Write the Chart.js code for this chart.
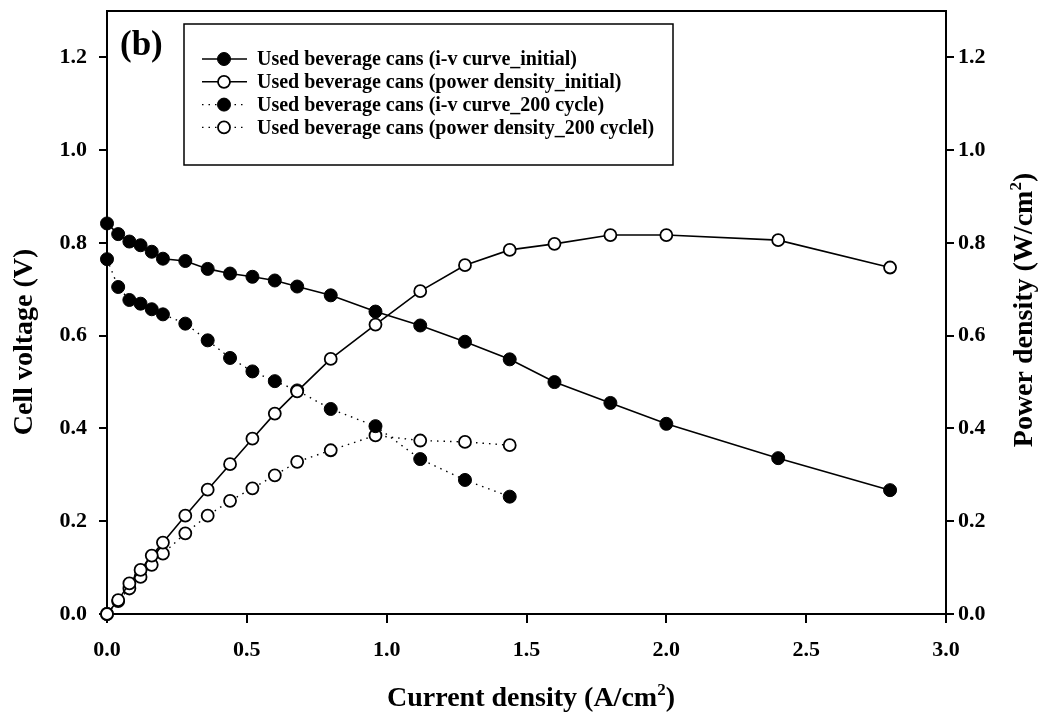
<!DOCTYPE html>
<html>
<head>
<meta charset="utf-8">
<script src="https://cdn.jsdelivr.net/npm/chart.js@4.4.1/dist/chart.umd.min.js"></script>
<style>
  body { margin: 0; background: #fff; }
  #wrap { width: 1048px; height: 722px; position: relative; }
</style>
</head>
<body>
<div id="wrap"><canvas id="myChart"></canvas></div>
<script>
// current density (A/cm2)
const currentInitial = [0, 0.04, 0.08, 0.12, 0.16, 0.2, 0.28, 0.36, 0.44, 0.52, 0.6, 0.68, 0.8, 0.96, 1.12, 1.28, 1.44, 1.6, 1.8, 2.0, 2.4, 2.8]
const voltageInitial = [0.842, 0.819, 0.803, 0.795, 0.781, 0.766, 0.761, 0.744, 0.734, 0.727, 0.719, 0.706, 0.687, 0.652, 0.622, 0.587, 0.549, 0.500, 0.455, 0.410, 0.336, 0.267]
const powerInitial = [0, 0.030, 0.066, 0.095, 0.126, 0.154, 0.212, 0.268, 0.323, 0.378, 0.432, 0.480, 0.550, 0.624, 0.696, 0.752, 0.785, 0.798, 0.817, 0.817, 0.806, 0.747]

const current200 = [0, 0.04, 0.08, 0.12, 0.16, 0.2, 0.28, 0.36, 0.44, 0.52, 0.6, 0.68, 0.8, 0.96, 1.12, 1.28, 1.44]
const voltage200 = [0.765, 0.705, 0.677, 0.669, 0.657, 0.646, 0.626, 0.590, 0.552, 0.523, 0.502, 0.482, 0.442, 0.405, 0.334, 0.289, 0.253]
const power200 = [0, 0.028, 0.055, 0.080, 0.106, 0.130, 0.174, 0.212, 0.244, 0.271, 0.299, 0.328, 0.353, 0.385, 0.374, 0.371, 0.364]

const legendLabels = [
  'Used beverage cans (i-v curve_initial)',
  'Used beverage cans (power density_initial)',
  'Used beverage cans (i-v curve_200 cycle)',
  'Used beverage cans (power density_200 cyclel)'
]

const xTicks = [0, 0.5, 1.0, 1.5, 2.0, 2.5, 3.0]
const yTicks = [0, 0.2, 0.4, 0.6, 0.8, 1.0, 1.2]

const serif = "'Liberation Serif', 'Times New Roman', serif"

function pts (xs, ys) {
  return xs.map((x, i) => ({ x: x, y: ys[i] }))
}

const data = {
  datasets: [
    {
      label: legendLabels[0],
      data: pts(currentInitial, voltageInitial),
      yAxisID: 'y',
      borderColor: '#000',
      borderWidth: 1.6,
      backgroundColor: '#000',
      pointBackgroundColor: '#000',
      pointBorderColor: '#000',
      pointRadius: 6.5,
      pointBorderWidth: 1,
      clip: false
    },
    {
      label: legendLabels[1],
      data: pts(currentInitial, powerInitial),
      yAxisID: 'y1',
      borderColor: '#000',
      borderWidth: 1.6,
      backgroundColor: '#fff',
      pointBackgroundColor: '#fff',
      pointBorderColor: '#000',
      pointRadius: 6,
      pointBorderWidth: 1.8,
      clip: false
    },
    {
      label: legendLabels[2],
      data: pts(current200, voltage200),
      yAxisID: 'y',
      borderColor: '#000',
      borderWidth: 1.4,
      borderDash: [1.5, 5],
      backgroundColor: '#000',
      pointBackgroundColor: '#000',
      pointBorderColor: '#000',
      pointRadius: 6.5,
      pointBorderWidth: 1,
      clip: false
    },
    {
      label: legendLabels[3],
      data: pts(current200, power200),
      yAxisID: 'y1',
      borderColor: '#000',
      borderWidth: 1.4,
      borderDash: [1.5, 5],
      backgroundColor: '#fff',
      pointBackgroundColor: '#fff',
      pointBorderColor: '#000',
      pointRadius: 6,
      pointBorderWidth: 1.8,
      clip: false
    }
  ]
}

// text centred on (0,0) with a raised "2" before the closing bracket
function supTitle (ctx, before, after) {
  const big = 'bold 28px ' + serif
  const small = 'bold 17px ' + serif
  ctx.font = big
  const w1 = ctx.measureText(before).width
  const w3 = ctx.measureText(after).width
  ctx.font = small
  const w2 = ctx.measureText('2').width
  let x = -(w1 + w2 + w3) / 2
  ctx.textAlign = 'left'
  ctx.textBaseline = 'alphabetic'
  ctx.font = big
  ctx.fillText(before, x, 10)
  x += w1
  ctx.font = small
  ctx.fillText('2', x, -1)
  x += w2
  ctx.font = big
  ctx.fillText(after, x, 10)
}

// frame top edge, axis titles, panel label and the boxed legend
const extras = {
  id: 'extras',
  afterDraw (chart) {
    const ctx = chart.ctx
    const a = chart.chartArea
    ctx.save()
    ctx.strokeStyle = '#000'
    ctx.lineWidth = 2
    ctx.beginPath()
    ctx.moveTo(a.left, a.top)
    ctx.lineTo(a.right, a.top)
    ctx.stroke()

    ctx.fillStyle = '#000'

    ctx.save()
    ctx.translate(531, 696)
    supTitle(ctx, 'Current density (A/cm', ')')
    ctx.restore()

    ctx.save()
    ctx.translate(25, 342)
    ctx.rotate(-Math.PI / 2)
    ctx.font = 'bold 28px ' + serif
    ctx.textAlign = 'center'
    ctx.textBaseline = 'middle'
    ctx.fillText('Cell voltage (V)', 0, 0)
    ctx.restore()

    ctx.save()
    ctx.translate(1022, 310)
    ctx.rotate(-Math.PI / 2)
    supTitle(ctx, 'Power density (W/cm', ')')
    ctx.restore()

    ctx.textAlign = 'left'
    ctx.textBaseline = 'middle'
    ctx.font = 'bold 35px ' + serif
    ctx.fillText('(b)', 120, 46)

    // legend box
    ctx.lineWidth = 1.5
    ctx.strokeRect(184, 24, 489, 141)
    ctx.font = 'bold 20px ' + serif
    chart.data.datasets.forEach((ds, i) => {
      const cy = 59 + i * 22.8
      ctx.save()
      ctx.lineWidth = ds.borderWidth
      ctx.setLineDash(ds.borderDash || [])
      ctx.beginPath()
      ctx.moveTo(202, cy)
      ctx.lineTo(247, cy)
      ctx.stroke()
      ctx.setLineDash([])
      ctx.beginPath()
      ctx.arc(224, cy, ds.pointRadius, 0, Math.PI * 2)
      ctx.fillStyle = ds.pointBackgroundColor
      ctx.fill()
      ctx.lineWidth = ds.pointBorderWidth
      ctx.stroke()
      ctx.restore()
      ctx.fillText(ds.label, 257, cy + 1)
    })
    ctx.restore()
  }
}

const tickFont = { family: serif, size: 22, weight: 'bold' }

function axisY (pos, width, pad) {
  return {
    type: 'linear',
    position: pos,
    min: 0,
    max: 1.3,
    afterBuildTicks: s => { s.ticks = yTicks.map(v => ({ value: v })) },
    afterFit: s => {
      s.width = width
      s.paddingTop = 0
      s.paddingBottom = 0
    },
    border: { display: true, color: '#000', width: 2 },
    grid: { drawOnChartArea: false, color: '#000', lineWidth: 2, tickLength: 8 },
    ticks: {
      color: '#000',
      font: tickFont,
      padding: pad,
      callback: v => Number(v).toFixed(1)
    }
  }
}

const config = {
  type: 'scatter',
  data: data,
  options: {
    responsive: true,
    maintainAspectRatio: false,
    animation: false,
    layout: { padding: { top: 11, left: 0, right: 0, bottom: 0 } },
    elements: { line: { tension: 0 } },
    datasets: { scatter: { showLine: true } },
    plugins: {
      legend: { display: false },
      tooltip: { enabled: false }
    },
    scales: {
      x: {
        type: 'linear',
        min: 0,
        max: 3,
        afterBuildTicks: s => { s.ticks = xTicks.map(v => ({ value: v })) },
        afterFit: s => {
          s.height = 108
          s.paddingLeft = 0
          s.paddingRight = 0
        },
        border: { display: true, color: '#000', width: 2 },
        grid: { drawOnChartArea: false, color: '#000', lineWidth: 2, tickLength: 9 },
        ticks: {
          color: '#000',
          font: tickFont,
          padding: 14,
          maxRotation: 0,
          callback: v => Number(v).toFixed(1)
        }
      },
      y: axisY('left', 107, 12),
      y1: axisY('right', 102, 4)
    }
  },
  plugins: [extras]
}

var myChart = new Chart(document.getElementById('myChart'), config)
</script>
</body>
</html>
